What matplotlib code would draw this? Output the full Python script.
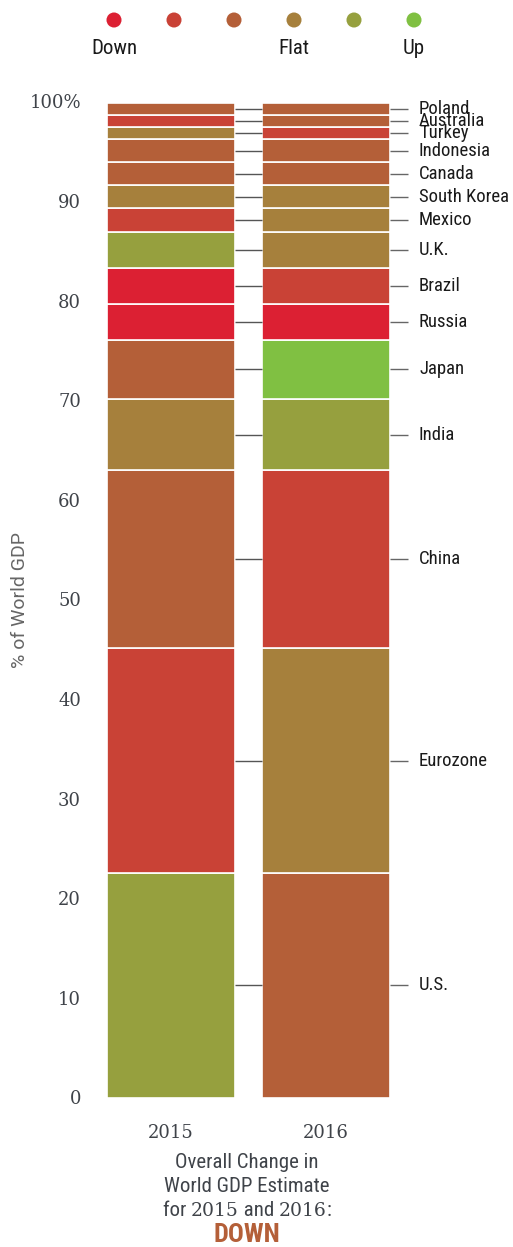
import matplotlib.pyplot as plt
import numpy as np
from matplotlib.offsetbox import TextArea, HPacker, AnnotationBbox

# countries bottom to top, share of world GDP (%)
countries = ['U.S.', 'Eurozone', 'China', 'India', 'Japan', 'Russia', 'Brazil',
             'U.K.', 'Mexico', 'South Korea', 'Canada', 'Indonesia', 'Turkey',
             'Australia', 'Poland']
share = [22.5, 22.6, 17.9, 7.1, 6.0, 3.6, 3.6, 3.6, 2.4, 2.3, 2.3, 2.3, 1.2, 1.2, 1.2]

# change level per country: 0 = down ... 5 = up
level_2015 = [4, 1, 2, 3, 2, 0, 0, 4, 1, 3, 2, 2, 3, 1, 2]
level_2016 = [2, 3, 1, 4, 5, 0, 1, 3, 3, 3, 2, 2, 1, 2, 2]

years = ['2015', '2016']
yticks = [0, 10, 20, 30, 40, 50, 60, 70, 80, 90, 100]
ytick_labels = ['0', '10', '20', '30', '40', '50', '60', '70', '80', '90', '100%']

palette = ['#dc2033', '#c94236', '#b45f38', '#a6803c', '#96a03e', '#80c042']
legend_labels = {0: 'Down', 3: 'Flat', 5: 'Up'}

grey = '#3f4349'
narrow = ['Roboto Condensed', 'Roboto', 'DejaVu Sans']
serif = 'DejaVu Serif'

W, H = 513, 1247
fig = plt.figure(figsize=(W / 100, H / 100), dpi=100)

# main axes, x in pixel units
ax_left = 95
ax = fig.add_axes([ax_left / W, (H - 1097.5) / H, 1 - ax_left / W, (1097.5 - 101.5) / H])
ax.set_xlim(ax_left, W)
ax.set_ylim(0, 100)

bar_left = [107, 262]
bar_w = 128
levels = [level_2015, level_2016]

bottoms = np.concatenate([[0], np.cumsum(share)[:-1]])
mids = bottoms + np.array(share) / 2

for i in range(2):
    cols = [palette[l] for l in levels[i]]
    ax.bar([bar_left[i]] * len(share), share, width=bar_w, bottom=bottoms,
           align='edge', color=cols, edgecolor='white', linewidth=1.2)

# connectors between bars and to labels
ax.hlines(mids, bar_left[0] + bar_w, bar_left[1], color='#555555', lw=1)
ax.hlines(mids, bar_left[1] + bar_w, 408, color='#666666', lw=1)
for m, c in zip(mids, countries):
    ax.text(419, m, c, ha='left', va='center', fontsize=13.5,
            family=narrow, color='#1a1a1a')

ax.set_yticks(yticks)
ax.set_yticklabels(ytick_labels, fontsize=13, family=serif, color=grey)
ax.tick_params(axis='y', length=0, pad=10)
ax.set_xticks([b + bar_w / 2 for b in bar_left])
ax.set_xticklabels(years, fontsize=13, family=serif, color=grey)
ax.tick_params(axis='x', length=0, pad=19)
for s in ax.spines.values():
    s.set_visible(False)

# overlay for legend and footer, pixel coords
ov = fig.add_axes([0, 0, 1, 1])
ov.set_xlim(0, W)
ov.set_ylim(H, 0)
ov.axis('off')

dot_x = [114 + 60 * i for i in range(len(palette))]
ov.scatter(dot_x, [20] * len(palette), s=117, c=palette, linewidths=0)
for k, lab in legend_labels.items():
    ov.text(dot_x[k], 49, lab, ha='center', va='center', fontsize=15,
            family=narrow, color='#1a1a1a')

ov.text(20, 600, '% of World GDP', rotation=90, ha='center', va='center',
        fontsize=14, family=['Roboto', 'DejaVu Sans'], color='#666666')

ov.text(247, 1163, 'Overall Change in', ha='center', va='center',
        fontsize=15, family=narrow, color=grey)
ov.text(247, 1187, 'World GDP Estimate', ha='center', va='center',
        fontsize=15, family=narrow, color=grey)

parts = [('for ', narrow), ('2015', serif), (' and ', narrow), ('2016', serif), (':', narrow)]
areas = [TextArea(t, textprops=dict(fontsize=15 if f is narrow else 13.5, family=f, color=grey))
         for t, f in parts]
box = HPacker(children=areas, align='baseline', pad=0, sep=0)
ab = AnnotationBbox(box, (247, 1210), xycoords='data', frameon=False,
                    box_alignment=(0.5, 0.5))
ov.add_artist(ab)

ov.text(247, 1235, 'DOWN', ha='center', va='center', fontsize=19,
        fontweight='bold', family=narrow, color='#b45f38')

plt.savefig('out.png', dpi=100)
